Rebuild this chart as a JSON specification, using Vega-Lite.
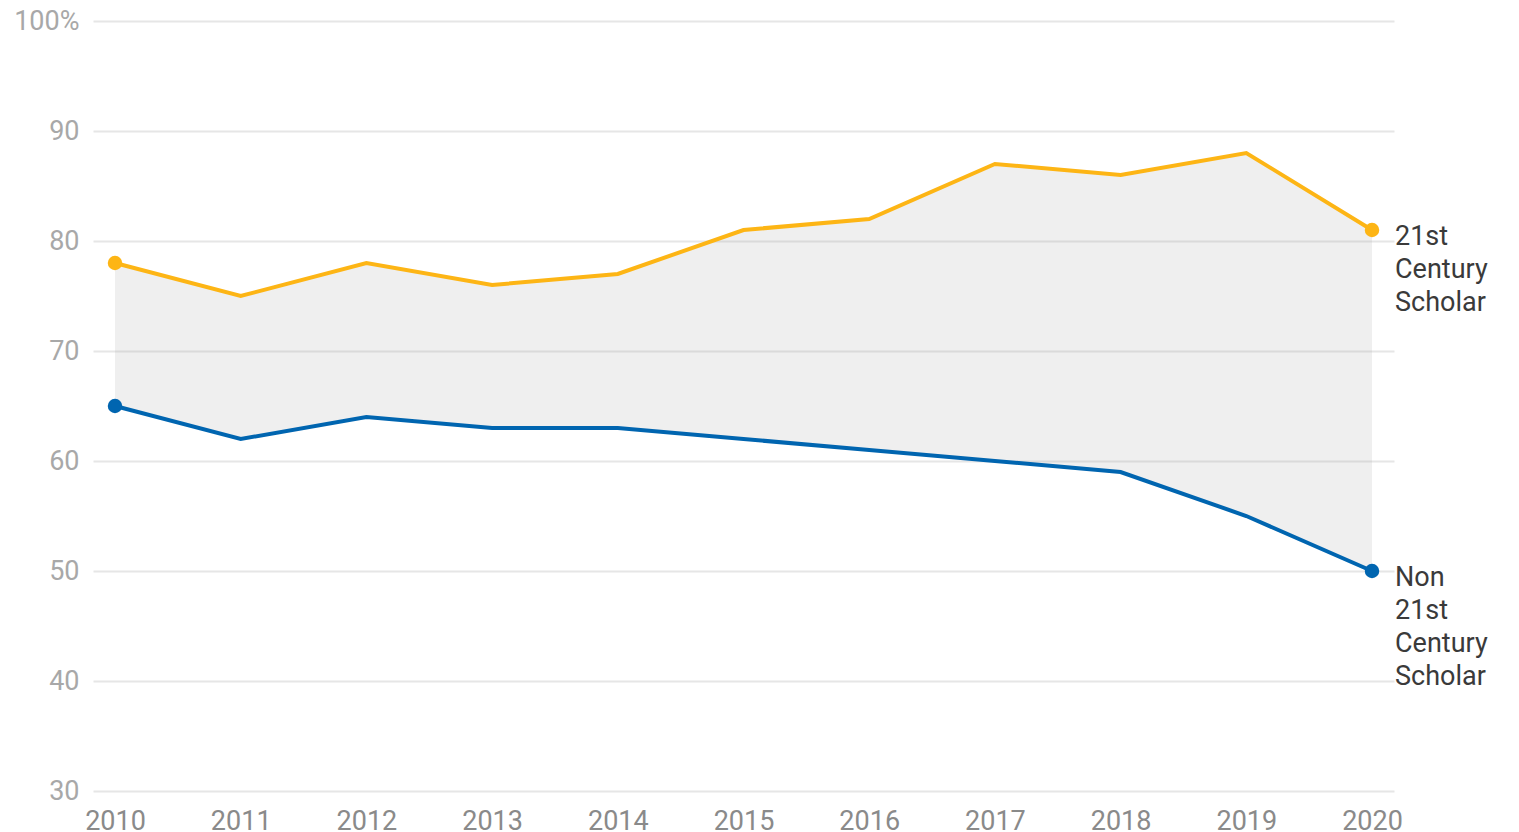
{
  "$schema": "https://vega.github.io/schema/vega-lite/v6.json",
  "autosize": "none",
  "padding": {"left": 93, "top": 21, "right": 125, "bottom": 41},
  "width": 1301,
  "height": 770,
  "background": "white",
  "config": {
    "font": "Roboto",
    "view": {"stroke": null},
    "axis": {"labelFont": "Roboto", "labelFontSize": 27, "domain": false, "ticks": false, "title": null}
  },
  "datasets": {
    "main": [
      {"year": 2010, "group": "scholar", "value": 78},
      {"year": 2011, "group": "scholar", "value": 75},
      {"year": 2012, "group": "scholar", "value": 78},
      {"year": 2013, "group": "scholar", "value": 76},
      {"year": 2014, "group": "scholar", "value": 77},
      {"year": 2015, "group": "scholar", "value": 81},
      {"year": 2016, "group": "scholar", "value": 82},
      {"year": 2017, "group": "scholar", "value": 87},
      {"year": 2018, "group": "scholar", "value": 86},
      {"year": 2019, "group": "scholar", "value": 88},
      {"year": 2020, "group": "scholar", "value": 81},
      {"year": 2010, "group": "non", "value": 65},
      {"year": 2011, "group": "non", "value": 62},
      {"year": 2012, "group": "non", "value": 64},
      {"year": 2013, "group": "non", "value": 63},
      {"year": 2014, "group": "non", "value": 63},
      {"year": 2015, "group": "non", "value": 62},
      {"year": 2016, "group": "non", "value": 61},
      {"year": 2017, "group": "non", "value": 60},
      {"year": 2018, "group": "non", "value": 59},
      {"year": 2019, "group": "non", "value": 55},
      {"year": 2020, "group": "non", "value": 50}
    ],
    "labels": [
      {"year": 2020, "group": "scholar", "value": 81, "label": ["21st", "Century", "Scholar"]},
      {"year": 2020, "group": "non", "value": 50, "label": ["Non", "21st", "Century", "Scholar"]}
    ]
  },
  "encoding": {
    "x": {
      "field": "year", "type": "quantitative",
      "scale": {"domain": [2009.825, 2020.175], "nice": false, "zero": false},
      "axis": {"values": [2010, 2011, 2012, 2013, 2014, 2015, 2016, 2017, 2018, 2019, 2020], "format": "d", "grid": false, "labelColor": "#8a8a8a", "labelPadding": 17, "labelBaseline": "top"}
    }
  },
  "layer": [
    {
      "data": {"name": "main"},
      "transform": [{"pivot": "group", "value": "value", "groupby": ["year"]}],
      "mark": {"type": "area", "color": "#9e9e9e", "opacity": 0.17},
      "encoding": {
        "y": {
          "field": "non", "type": "quantitative",
          "scale": {"domain": [30, 100], "nice": false, "zero": false},
          "axis": {"values": [30, 40, 50, 60, 70, 80, 90, 100], "grid": true, "gridColor": "#e6e6e6", "gridWidth": 2, "labelColor": "#a8a8a8", "labelPadding": 14, "labelExpr": "datum.value == 100 ? '100%' : datum.label"}
        },
        "y2": {"field": "scholar"}
      }
    },
    {
      "data": {"name": "main"},
      "mark": {"type": "line", "strokeWidth": 4},
      "encoding": {
        "y": {"field": "value", "type": "quantitative"},
        "color": {"field": "group", "type": "nominal", "scale": {"domain": ["scholar", "non"], "range": ["#FDB515", "#0065B0"]}, "legend": null}
      }
    },
    {
      "data": {"name": "main"},
      "transform": [{"filter": {"field": "year", "oneOf": [2010, 2020]}}],
      "mark": {"type": "point", "filled": true, "opacity": 1, "size": 210},
      "encoding": {
        "y": {"field": "value", "type": "quantitative"},
        "color": {"field": "group", "type": "nominal", "legend": null}
      }
    },
    {
      "data": {"name": "labels"},
      "mark": {"type": "text", "align": "left", "baseline": "alphabetic", "dx": 23, "dy": 15, "fontSize": 27, "lineHeight": 33, "color": "#3a3a3a", "font": "Roboto"},
      "encoding": {
        "y": {"field": "value", "type": "quantitative"},
        "text": {"field": "label"}
      }
    }
  ]
}
